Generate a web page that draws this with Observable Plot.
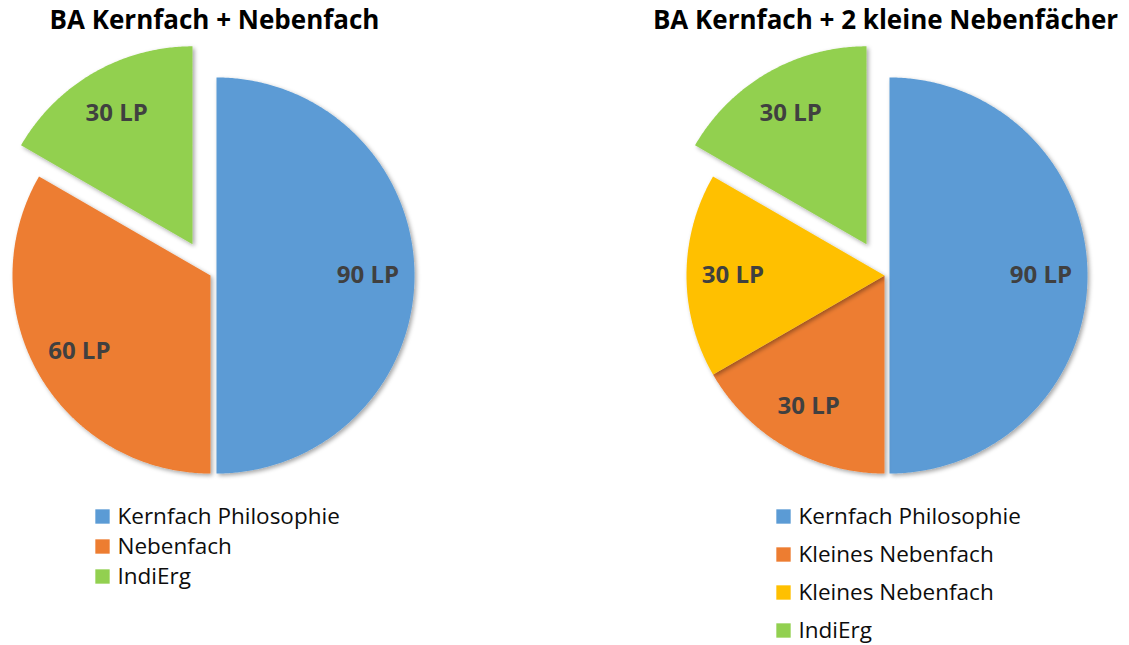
<!DOCTYPE html>
<html>
<head>
<meta charset="utf-8">
<script src="https://cdn.jsdelivr.net/npm/d3@7"></script>
<script src="https://cdn.jsdelivr.net/npm/@observablehq/plot@0.6"></script>
<style>
  html, body { margin: 0; padding: 0; background: #fff; }
  #chart svg { display: block; }
</style>
</head>
<body>
<div id="chart"></div>
<script>
// ---- data ----
const leftTitle = "BA Kernfach + Nebenfach";
const leftCategories = ["Kernfach Philosophie", "Nebenfach", "IndiErg"];
const leftValues = [90, 60, 30];
const leftColors = ["#5B9BD5", "#ED7D31", "#92D050"];

const rightTitle = "BA Kernfach + 2 kleine Nebenfächer";
const rightCategories = ["Kernfach Philosophie", "Kleines Nebenfach", "Kleines Nebenfach", "IndiErg"];
const rightValues = [90, 30, 30, 30];
const rightColors = ["#5B9BD5", "#ED7D31", "#FFC000", "#92D050"];

const unit = " LP";

// ---- layout / style ----
const W = 1129, H = 645;
const pies = [
  {title: leftTitle, cats: leftCategories, vals: leftValues, cols: leftColors,
   cx: 210, cy: 275, r: 198, explode: [6, 0, 36], titleX: 214,
   legendX: 102, legendY: 516, legendStep: 30},
  {title: rightTitle, cats: rightCategories, vals: rightValues, cols: rightColors,
   cx: 884, cy: 275, r: 198, explode: [5, 0, 0, 36], titleX: 885,
   legendX: 783, legendY: 516, legendStep: 38}
];
const labelFrac = 0.765;
const font = "'Open Sans', Lato, sans-serif";

// ---- build geometry from data ----
const polys = [], labels = [], titles = [], legend = [];
pies.forEach((p, pi) => {
  const total = d3.sum(p.vals);
  let acc = 0;
  p.vals.forEach((v, i) => {
    const a0 = acc / total * 2 * Math.PI;
    acc += v;
    const a1 = acc / total * 2 * Math.PI;
    const am = (a0 + a1) / 2;
    const ox = p.cx + p.explode[i] * Math.sin(am);
    const oy = p.cy - p.explode[i] * Math.cos(am);
    const id = pi + "-" + i;
    polys.push({id, x: ox, y: oy, color: p.cols[i]});
    const n = Math.max(2, Math.ceil((a1 - a0) / (Math.PI / 360)));
    for (let k = 0; k <= n; k++) {
      const a = a0 + (a1 - a0) * k / n;
      polys.push({id, x: ox + p.r * Math.sin(a), y: oy - p.r * Math.cos(a), color: p.cols[i]});
    }
    labels.push({x: ox + labelFrac * p.r * Math.sin(am), y: oy - labelFrac * p.r * Math.cos(am), text: v + unit});
    legend.push({x: p.legendX, y: p.legendY + i * p.legendStep, color: p.cols[i], text: p.cats[i]});
  });
  titles.push({x: p.titleX, y: 20, text: p.title});
});

const chart = Plot.plot({
  width: W, height: H,
  margin: 0,
  x: {domain: [0, W], range: [0, W], axis: null},
  y: {domain: [0, H], range: [0, H], axis: null},
  style: {fontFamily: font, background: "#fff"},
  marks: [
    Plot.line(polys, {x: "x", y: "y", z: "id", fill: "color", stroke: "none", curve: "linear-closed"}),
    Plot.text(labels, {x: "x", y: "y", text: "text", fill: "#404040", fontSize: 24, fontWeight: "bold", fontFamily: font}),
    Plot.text(titles, {x: "x", y: "y", text: "text", fill: "#000", fontSize: 26, fontWeight: "bold", fontFamily: font}),
    Plot.dot(legend, {x: "x", y: "y", fill: "color", symbol: "square", r: 8.1}),
    Plot.text(legend, {x: d => d.x + 15, y: "y", text: "text", textAnchor: "start", fill: "#0d0d0d", fontSize: 22.5, fontFamily: font})
  ]
});

// drop shadow on pie slices
const ns = "http://www.w3.org/2000/svg";
const defs = document.createElementNS(ns, "defs");
defs.innerHTML = '<filter id="sh" x="-10%" y="-10%" width="130%" height="130%"><feDropShadow dx="2" dy="2" stdDeviation="2" flood-color="#000" flood-opacity="0.35"/></filter>';
chart.insertBefore(defs, chart.firstChild);
const lineGroup = chart.querySelector('g[aria-label="line"]');
if (lineGroup) lineGroup.querySelectorAll("path").forEach(p => p.setAttribute("filter", "url(#sh)"));

document.getElementById("chart").appendChild(chart);
</script>
</body>
</html>
